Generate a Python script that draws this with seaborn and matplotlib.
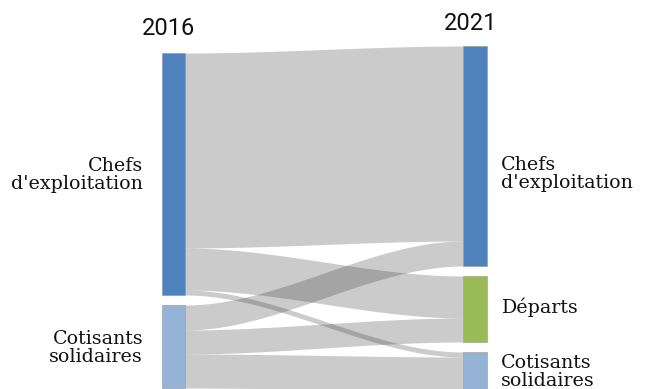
import numpy as np
import matplotlib
matplotlib.use("Agg")
import matplotlib.pyplot as plt
import seaborn as sns

# ---- data ----
years = ["2016", "2021"]
left_nodes = ["Chefs\nd'exploitation", "Cotisants\nsolidaires"]
right_nodes = ["Chefs\nd'exploitation", "Départs", "Cotisants\nsolidaires"]
flow_src = [0, 0, 0, 1, 1, 1]
flow_dst = [0, 1, 2, 0, 1, 2]
flow_val = [195, 42, 5, 25, 24, 34]

left_colors = ["#4f81bd", "#95b3d7"]
right_colors = ["#4f81bd", "#9bbb59", "#95b3d7"]

sns.set_theme(style="white")
plt.rcParams['font.family'] = ['DejaVu Serif', 'DejaVu Sans']

fig = plt.figure(figsize=(6.48, 3.89), dpi=100)
ax = fig.add_axes([0, 0, 1, 1])
ax.set_xlim(0, 648)
ax.set_ylim(389, 0)
ax.axis("off")

# layout
xL0, xL1 = 162, 185
xR0, xR1 = 463, 487
gap = 10
center = 219.5

vals = np.array(flow_val, dtype=float)
src = np.array(flow_src)
dst = np.array(flow_dst)
left_tot = np.array([vals[src == i].sum() for i in range(len(left_nodes))])
right_tot = np.array([vals[dst == j].sum() for j in range(len(right_nodes))])

def tops(totals, shift=0):
    span = totals.sum() + gap * (len(totals) - 1)
    t = center - span / 2 + shift
    out = []
    for v in totals:
        out.append(t)
        t += v + gap
    return np.array(out)

lt = tops(left_tot, 1)
rt = tops(right_tot, -1)

# ribbons
lcur = lt.copy()
rcur = rt.copy()
order_r = sorted(range(len(vals)), key=lambda k: (dst[k], src[k]))
r_pos = {}
for k in order_r:
    r_pos[k] = rcur[dst[k]]
    rcur[dst[k]] += vals[k]
x = np.linspace(xL1, xR0, 300)
t = (x - xL1) / (xR0 - xL1)
s = 3 * t**2 - 2 * t**3
for k in range(len(vals)):
    y0 = lcur[src[k]]
    lcur[src[k]] += vals[k]
    y1 = r_pos[k]
    top = y0 + (y1 - y0) * s
    ax.fill_between(x, top, top + vals[k], color="#333333", alpha=0.25,
                    linewidth=0, zorder=1)

# nodes
for i, v in enumerate(left_tot):
    ax.bar(xL0, v, bottom=lt[i], width=xL1 - xL0, align="edge",
           color=left_colors[i], edgecolor="#7f95ad", linewidth=0.4, zorder=2)
for j, v in enumerate(right_tot):
    ax.bar(xR0, v, bottom=rt[j], width=xR1 - xR0, align="edge",
           color=right_colors[j], edgecolor="#8f9f80", linewidth=0.4, zorder=2)

# labels
fs = 13.7
for i, name in enumerate(left_nodes):
    ax.text(143, lt[i] + left_tot[i] / 2 + 1, name, ha="right", va="center",
            multialignment="right", fontsize=fs, color="#111111", linespacing=1.0)
r_off = [18, -2, 0]
for j, name in enumerate(right_nodes):
    ax.text(501, rt[j] + right_tot[j] / 2 + r_off[j], name, ha="left", va="center",
            multialignment="left", fontsize=fs, color="#111111", linespacing=1.0)

ax.text((xL0 + xL1) / 2 - 5, 28, years[0], ha="center", va="center",
        fontsize=17, family=["Roboto", "DejaVu Sans"], color="#111111")
ax.text((xR0 + xR1) / 2 - 4, 23, years[1], ha="center", va="center",
        fontsize=17, family=["Roboto", "DejaVu Sans"], color="#111111")

fig.savefig("out.png", dpi=100)
